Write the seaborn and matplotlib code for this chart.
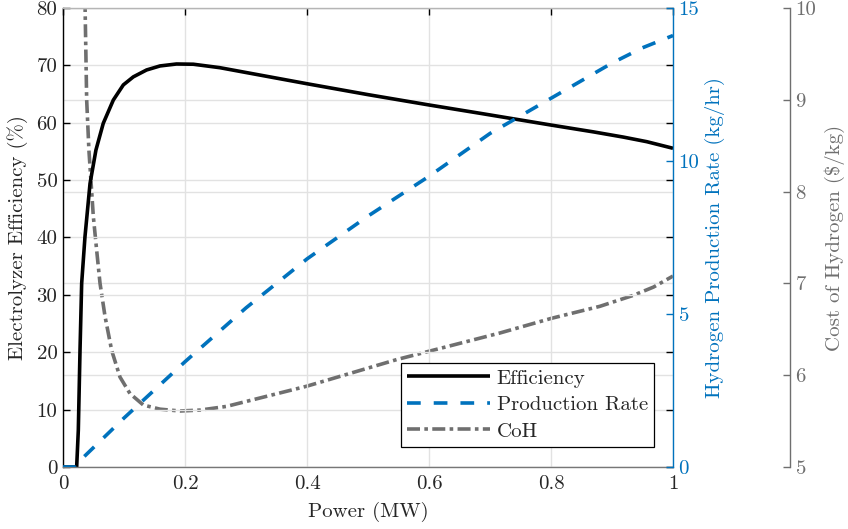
import matplotlib
matplotlib.use("Agg")
import matplotlib.pyplot as plt
import seaborn as sns
from matplotlib.ticker import FuncFormatter, MultipleLocator

# ---- data ----
power_eff = [0, 0.0224, 0.0251, 0.0279, 0.0306, 0.036, 0.0443, 0.054, 0.066, 0.0825,
             0.0989, 0.1153, 0.137, 0.159, 0.186, 0.2137, 0.257, 0.4, 0.5, 0.6,
             0.6836, 0.8, 0.87, 0.9186, 0.957, 1.0]
efficiency = [0, 0, 6.4, 20.4, 32.0, 40.1, 49.4, 55.25, 59.9, 63.96, 66.6, 68.0, 69.2,
              69.9, 70.24, 70.2, 69.6, 66.8, 64.9, 63.1, 61.65, 59.6, 58.4, 57.5,
              56.7, 55.55]

power_rate = [0, 0.022, 0.03, 0.1, 0.2, 0.3, 0.4, 0.5, 0.6, 0.7, 0.8, 0.9, 0.95, 1.0]
production_rate = [0, 0, 0.25, 1.6, 3.44, 5.2, 6.8, 8.2, 9.5, 10.9, 12.05, 13.2, 13.7, 14.1]

power_coh = [0.034, 0.036, 0.0388, 0.0425, 0.047, 0.0497, 0.0552, 0.0607, 0.0689,
             0.0798, 0.0934, 0.1098, 0.1317, 0.159, 0.1918, 0.2246, 0.268, 0.3995,
             0.547, 0.7164, 0.801, 0.880, 0.935, 0.968, 1.0]
coh = [10.6, 10.09, 9.0, 8.45, 8.0, 7.73, 7.36, 7.0, 6.64, 6.27, 5.98, 5.80, 5.675,
       5.63, 5.61, 5.62, 5.66, 5.88, 6.17, 6.46, 6.62, 6.75, 6.87, 6.96, 7.08]

legend_labels = ["Efficiency", "Production Rate", "CoH"]

BLUE = "#0072BD"
GRAY = "#6f6f6f"
GRID = "#e2e2e2"
FS = 15

sns.set_style("white")
plt.rcParams["font.family"] = ["cmr10", "DejaVu Serif"]
plt.rcParams["mathtext.fontset"] = "cm"
plt.rcParams["axes.formatter.use_mathtext"] = True
plt.rcParams["font.size"] = FS

fig = plt.figure(figsize=(8.48, 5.29), dpi=100)
L, R, B, T = 63 / 848, 673 / 848, (529 - 467) / 529, (529 - 8) / 529
ax = fig.add_axes([L, B, R - L, T - B])
ax2 = ax.twinx()
ax3 = ax.twinx()

ax3.set_zorder(0)
ax.set_zorder(1)
ax2.set_zorder(2)
for a in (ax, ax2, ax3):
    a.patch.set_visible(False)

# ---- curves ----
sns.lineplot(x=power_eff, y=efficiency, ax=ax, color="black", lw=2.6, sort=False)
sns.lineplot(x=power_rate, y=production_rate, ax=ax2, color=BLUE, lw=2.6,
             linestyle=(0, (3.8, 3.6)), sort=False)
sns.lineplot(x=power_coh, y=coh, ax=ax3, color=GRAY, lw=2.6,
             linestyle=(0, (3.6, 1.2, 1.0, 1.2)), sort=False)
for a in (ax, ax2, ax3):
    for ln in a.lines:
        ln.set_solid_capstyle("butt")
        ln.set_dash_capstyle("butt")
        ln.set_solid_joinstyle("round")

# ---- left axis ----
ax.set_xlim(0, 1)
ax.set_ylim(0, 80)
ax.xaxis.set_major_locator(MultipleLocator(0.2))
ax.yaxis.set_major_locator(MultipleLocator(10))
ax.xaxis.set_major_formatter(FuncFormatter(lambda v, p: f"{v:g}"))
ax.yaxis.set_major_formatter(FuncFormatter(lambda v, p: f"{v:g}"))
ax.grid(True, color=GRID, lw=1.0)
ax.tick_params(axis="both", direction="in", length=5, width=1, color="black",
               labelsize=FS, top=True, right=True, labelright=False, pad=4)
ax.tick_params(axis="x", pad=6)
ax.spines["left"].set_color("black")
ax.spines["bottom"].set_color("#777777")
ax.spines["top"].set_color("#b5b5b5")
ax.spines["right"].set_visible(False)
for s in ("left", "bottom", "top"):
    ax.spines[s].set_linewidth(1.0)
ax.set_xlabel("Power (MW)", fontsize=FS, labelpad=6)
ax.set_ylabel("Electrolyzer Efficiency (%)", fontsize=FS, labelpad=6)

# ---- production rate axis ----
ax2.set_ylim(0, 15)
ax2.yaxis.set_major_locator(MultipleLocator(5))
ax2.yaxis.set_major_formatter(FuncFormatter(lambda v, p: f"{v:g}"))
ax2.tick_params(axis="y", direction="in", length=5, width=1, colors=BLUE,
                labelsize=FS, pad=4)
for s in ("left", "top", "bottom"):
    ax2.spines[s].set_visible(False)
ax2.spines["right"].set_color(BLUE)
ax2.spines["right"].set_linewidth(1.0)
ax2.set_ylabel("Hydrogen Production Rate (kg/hr)", color=BLUE, fontsize=FS, labelpad=4)

# ---- cost axis ----
ax3.set_ylim(5, 10)
ax3.yaxis.set_major_locator(MultipleLocator(1))
ax3.yaxis.set_major_formatter(FuncFormatter(lambda v, p: f"{v:g}"))
ax3.grid(True, axis="y", color=GRID, lw=1.0)
ax3.spines["right"].set_position(("axes", (790 - 63) / 610))
ax3.spines["right"].set_color(GRAY)
ax3.spines["right"].set_linewidth(1.0)
for s in ("left", "top", "bottom"):
    ax3.spines[s].set_visible(False)
ax3.tick_params(axis="y", direction="in", length=5, width=1, colors=GRAY,
                labelsize=FS, pad=4)
ax3.set_ylabel("Cost of Hydrogen ($/kg)", color=GRAY, fontsize=FS, labelpad=6)

# ---- legend ----
handles = [ax.lines[0], ax2.lines[0], ax3.lines[0]]
leg = ax2.legend(handles, legend_labels, loc="lower right",
                 bbox_to_anchor=(0.969, 0.0436), frameon=True, fancybox=False,
                 edgecolor="black", framealpha=1, handlelength=4.0,
                 handletextpad=0.3, labelspacing=0.38, borderpad=0.3,
                 borderaxespad=0, fontsize=FS)
leg.get_frame().set_linewidth(0.9)

fig.savefig("out.png", dpi=100)
